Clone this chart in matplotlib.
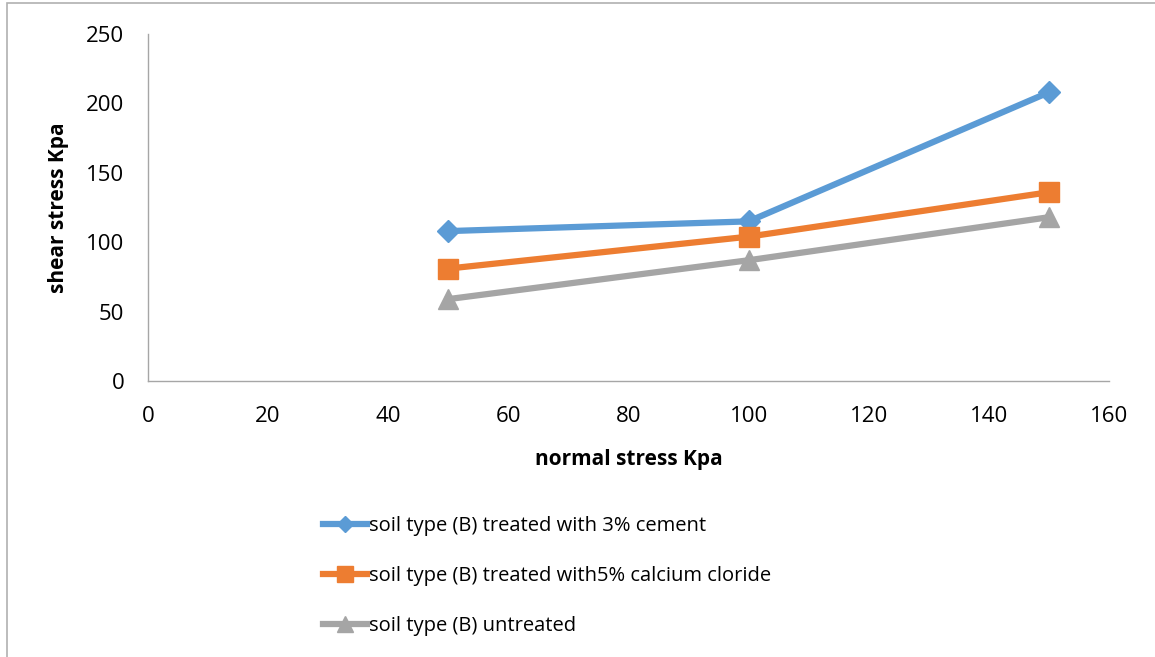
import matplotlib.pyplot as plt
from matplotlib.patches import Rectangle

normal_stress = [50, 100, 150]
cement = [108, 115, 208]
calcium = [81, 104, 136]
untreated = [59, 87, 118]
labels = ['soil type (B) treated with 3% cement',
          'soil type (B) treated with5% calcium cloride',
          'soil type (B) untreated']

plt.rcParams['font.family'] = ['Open Sans', 'DejaVu Sans']

fig = plt.figure(figsize=(11.55, 6.57), dpi=100)
ax = fig.add_axes([148/1155, 1-381/657, (1109-148)/1155, (381-34)/657])

ax.plot(normal_stress, cement, color='#5B9BD5', lw=4.5, marker='D', ms=11, label=labels[0])
ax.plot(normal_stress, calcium, color='#ED7D31', lw=4.5, marker='s', ms=15, label=labels[1])
ax.plot(normal_stress, untreated, color='#A5A5A5', lw=4.5, marker='^', ms=15, label=labels[2])

ax.set_xlim(0, 160)
ax.set_ylim(0, 250)
ax.set_xticks(range(0, 161, 20))
ax.set_yticks(range(0, 251, 50))
for s in ['top', 'right']:
    ax.spines[s].set_visible(False)
for s in ['left', 'bottom']:
    ax.spines[s].set_color('#A6A6A6')
    ax.spines[s].set_linewidth(1)
ax.tick_params(length=0, labelsize=16)
ax.tick_params(axis='x', pad=18)
ax.tick_params(axis='y', pad=17)
ax.set_xlabel('normal stress Kpa', fontsize=15, fontweight='bold', labelpad=16)
ax.set_ylabel('shear stress Kpa', fontsize=15, fontweight='bold', labelpad=12)

leg = fig.legend(loc='upper left', bbox_to_anchor=(305/1155, 1-498/657), frameon=False,
                 fontsize=14.5, handlelength=2.2, handletextpad=0.1, labelspacing=1.48,
                 markerscale=0.75)

# chart area border
fig.patches.append(Rectangle((7/1155, -0.1), 1.2, 1-3/657+0.1, transform=fig.transFigure,
                             fill=False, ec='#B0B0B0', lw=1.2))

fig.savefig('out.png', dpi=100)
